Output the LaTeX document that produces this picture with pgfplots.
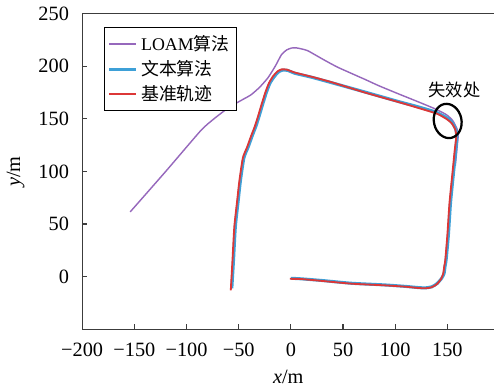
\documentclass[border=0pt]{standalone}
\usepackage{fontspec}
\setmainfont{Liberation Serif}
\newfontfamily\cjk{Noto Sans CJK SC}
\usepackage{pgfplots}
\pgfplotsset{compat=1.18}
\definecolor{loam}{RGB}{150,104,188}
\definecolor{txt}{RGB}{62,160,215}
\definecolor{refc}{RGB}{220,55,55}
\definecolor{axc}{RGB}{60,60,60}
\begin{document}
\begin{tikzpicture}
\begin{axis}[
  scale only axis, width=203pt, height=155.5pt,
  xmin=-200, xmax=195, ymin=-50, ymax=250,
  axis x line*=bottom, axis y line*=left,
  axis line style={axc, line width=0.65pt},
  tick style={axc, line width=0.6pt},
  tick align=inside, major tick length=2.6pt,
  xtick={-200,-150,-100,-50,0,50,100,150},
  xticklabels={−200,−150,−100,−50,0,50,100,150},
  ytick={0,50,100,150,200,250},
  yticklabels={0,50,100,150,200,250},
  ticklabel style={font=\fontsize{10}{12}\selectfont},
  xticklabel style={yshift=-3pt},
  yticklabel style={xshift=-3pt},
  xlabel={\textit{x}/m}, ylabel={\textit{y}/m},
  label style={font=\fontsize{10}{12}\selectfont},
  clip=false,
  legend style={at={(0.052,0.957)}, anchor=north west, draw=black, line width=0.6pt,
    font=\fontsize{8.8}{10}\selectfont, inner sep=1.6pt, row sep=-0.6pt},
  legend cell align=left,
  legend image code/.code={\draw[#1] (0cm,0cm) -- (0.46cm,0cm);},
]
\addplot[color=loam, line width=0.7pt, smooth, tension=0.35] coordinates {
(157.5,105) (159.5,125) (160.5,136) (159,141) (155,148.5) (149,154) (138,159.6)
(120,167) (103,173.8) (84,181.6) (71,187.5) (45,199) (30,207) (16.3,214.7)
(10,216.5) (5,217.5) (0.6,217.3) (-4,215.5) (-9,211) (-15,200) (-22,189)
(-30,180) (-38,173) (-45,169) (-54,164) (-64,157.5) (-75,149) (-86.5,138.7)
(-120,100) (-154,61.6)};
\addlegendentry{LOAM{\cjk 算法}}
\addplot[color=txt, line width=1.5pt, smooth, tension=0.35] coordinates {
(0,-1.5) (10,-2) (30,-3.6) (58,-6.2) (90,-7.8) (110,-9.2) (122,-10.3) (129,-10.6)
(135,-9.6) (140,-6.6) (144.5,-1.5) (146.8,3) (147.8,10) (148.8,16) (151,40)
(153,70) (156,100) (158,120) (159,133) (158,140) (154.5,146.5) (149.5,151)
(142,155) (138,156.8) (120,162) (103,166.5) (71,175.5) (38.5,184.5) (20,189.5)
(3.8,193.3) (-3,196) (-8,196.3) (-12,194.5) (-16,190) (-20,184) (-23.5,175)
(-27,164) (-30.6,152) (-33.5,143) (-37,134) (-41,123) (-45,113) (-48.3,91.5)
(-50.5,72) (-53.2,47.5) (-55,15) (-56.6,-11)};
\addlegendentry{{\cjk 文本算法}}
\addplot[color=refc, line width=0.9pt, smooth, tension=0.35] coordinates {
(-1,-2) (10,-2.2) (30,-4) (58,-6.6) (90,-8.2) (110,-9.5) (122,-10.7) (129,-11)
(135,-10) (140,-7) (144,-2) (146,3) (147,10) (148,16) (150,40) (152,70) (155,100)
(157,120) (158.5,133) (157.5,140) (154,146) (149,150) (142,154) (138,155.6)
(120,161) (103,166) (71,175) (38.5,185) (20,190) (3.8,194) (-4,196.8) (-9,197)
(-13,195) (-17,190.6) (-21,184) (-24.5,175) (-28,164) (-31.6,152) (-34.5,143)
(-38,134) (-42,123) (-46,113) (-49.3,91.5) (-51.5,72) (-54.2,47.5) (-56,15)
(-57.6,-13)};
\addlegendentry{{\cjk 基准轨迹}}
\draw[axc, line width=0.65pt] (rel axis cs:0,1) -- (rel axis cs:1,1);
\draw[black, line width=1.1pt, rotate around={12:(axis cs:150.3,148)}] (axis cs:150.3,148) ellipse [x radius=6.8pt, y radius=8.5pt];
\node[font=\cjk\fontsize{8.5}{10}\selectfont] at (axis cs:156.8,177) {失效处};
\end{axis}
\end{tikzpicture}
\end{document}
